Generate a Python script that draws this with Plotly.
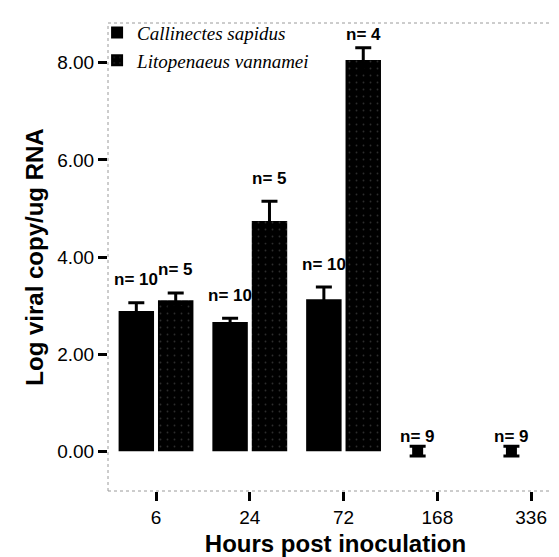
import plotly.graph_objects as go

# ---- data ----
hours = ["6", "24", "72", "168", "336"]
callinectes = [2.89, 2.66, 3.13, 0.0, 0.0]
callinectes_err = [0.17, 0.08, 0.25, 0.10, 0.10]
callinectes_n = ["n= 10", "n= 10", "n= 10", "n= 9", "n= 9"]
litopenaeus = [3.11, 4.74, 8.06, None, None]
litopenaeus_err = [0.15, 0.41, 0.25, None, None]
litopenaeus_n = ["n= 5", "n= 5", "n= 4", None, None]

y_ticks = [0, 2, 4, 6, 8]

# ---- style ----
idx = list(range(len(hours)))
bargap, groupgap = 0.16, 0.10
slot = (1 - bargap) / 2
off = slot / 2

fig = go.Figure()
fig.add_trace(go.Bar(
    x=idx, y=callinectes, name="<i>Callinectes sapidus</i>",
    marker=dict(color="black", line=dict(width=0)),
    error_y=dict(type="data", array=callinectes_err, symmetric=True,
                 color="black", thickness=3, width=8),
))
fig.add_trace(go.Bar(
    x=idx, y=litopenaeus, name="<i>Litopenaeus vannamei</i>",
    marker=dict(color="black", line=dict(width=0),
                pattern=dict(shape=".", fgcolor="#5a5a5a", bgcolor="black",
                             size=7, solidity=0.05)),
    error_y=dict(type="data", array=litopenaeus_err, symmetric=True,
                 color="black", thickness=3, width=8),
))

# small blobs for zero-value groups
zx = [i - off for i, v in zip(idx, callinectes) if v == 0]
zy = [v for v in callinectes if v == 0]
fig.add_trace(go.Scatter(x=zx, y=zy, mode="markers", showlegend=False,
                         marker=dict(symbol="square", size=11, color="black"),
                         hoverinfo="skip"))

nfont = dict(family="Liberation Sans", size=17, color="black", weight="bold")
annots = []
for i in idx:
    if callinectes_n[i]:
        top = callinectes[i] + callinectes_err[i]
        annots.append(dict(x=i - off, y=top, text=callinectes_n[i],
                           showarrow=False, yanchor="middle",
                           yshift=10 if callinectes[i] == 0 else 23, font=nfont))
    if litopenaeus_n[i]:
        top = litopenaeus[i] + litopenaeus_err[i]
        annots.append(dict(x=i + off, y=top, text=litopenaeus_n[i],
                           showarrow=False, yanchor="middle",
                           yshift=13 if top > 8 else 23, font=nfont))

dot = dict(color="#9a9a9a", width=1, dash="dot")
shapes = [
    dict(type="line", xref="paper", yref="paper", x0=0, x1=0, y0=0, y1=1, line=dot),
    dict(type="line", xref="paper", yref="paper", x0=0, x1=1, y0=0, y1=0, line=dot),
    dict(type="line", xref="paper", yref="paper", x0=0, x1=1, y0=1, y1=1, line=dot),
]

fig.update_layout(
    width=559, height=557,
    margin=dict(l=100, r=4, t=15, b=74),
    paper_bgcolor="white", plot_bgcolor="white",
    barmode="group", bargap=bargap, bargroupgap=groupgap,
    font=dict(family="Liberation Sans", color="black"),
    annotations=annots, shapes=shapes,
    legend=dict(x=-0.024, y=1.02, xanchor="left", yanchor="top",
                bgcolor="rgba(0,0,0,0)",
                font=dict(family="Liberation Serif", size=19, color="black"),
                itemwidth=30, tracegroupgap=0),
    xaxis=dict(range=[-0.512, 4.34], tickmode="array", tickvals=idx, ticktext=hours,
               showgrid=False, zeroline=False, showline=False,
               ticks="outside", ticklen=9, tickwidth=3, tickcolor="black",
               tickfont=dict(size=19),
               title=dict(text="<b>Hours post inoculation</b>", font=dict(size=24), standoff=8)),
    yaxis=dict(range=[-0.82, 8.82], tickmode="array", tickvals=y_ticks,
               tickformat=".2f", showgrid=False, zeroline=False, showline=False,
               ticks="outside", ticklen=9, tickwidth=3, tickcolor="black",
               tickfont=dict(size=19),
               title=dict(text="<b>Log viral copy/ug RNA</b>", font=dict(size=24), standoff=6)),
)

fig.write_html("out.html")
